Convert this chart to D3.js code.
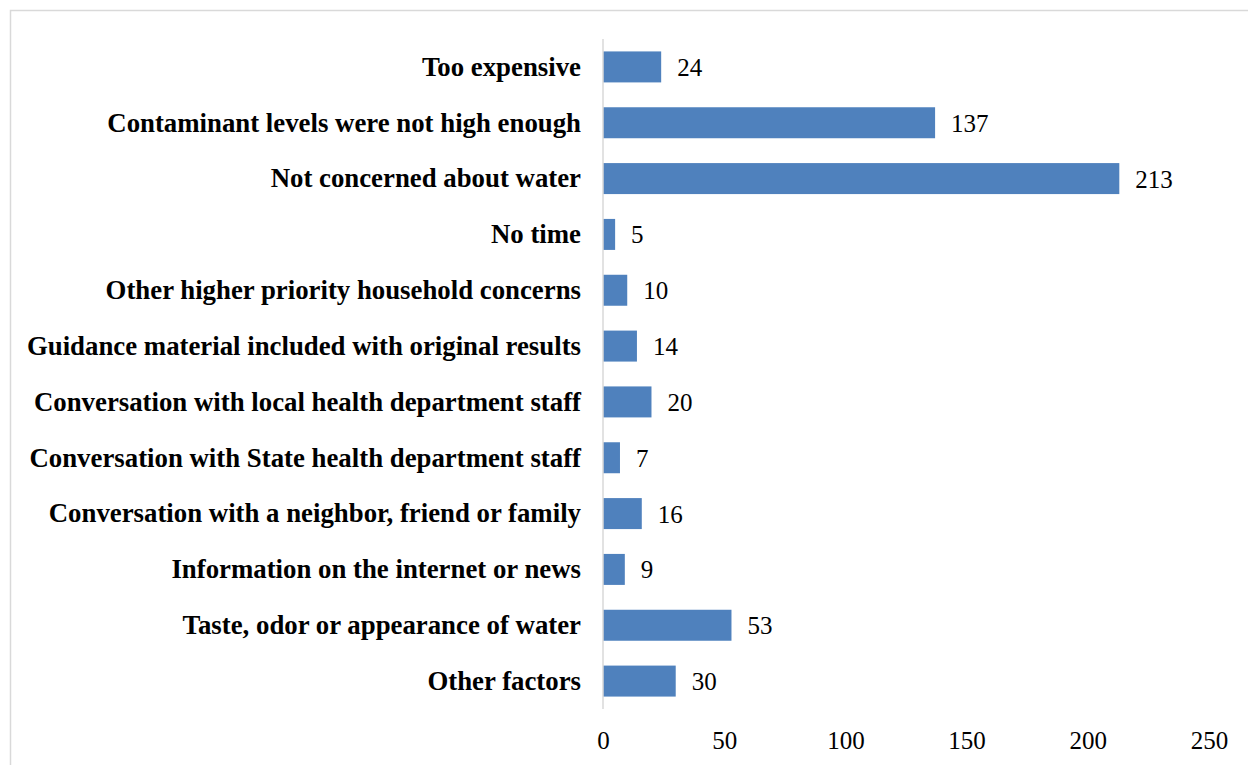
<!DOCTYPE html>
<html>
<head>
<meta charset="utf-8">
<script src="https://cdn.jsdelivr.net/npm/d3@7/dist/d3.min.js"></script>
<style>
  html, body { margin: 0; padding: 0; background: #fff; }
  svg { display: block; }
  text { font-family: "Liberation Serif", "Times New Roman", serif; fill: #000; }
</style>
</head>
<body>
<svg id="chart" width="1248" height="765"></svg>
<script>
// Reasons reported, top to bottom
const categories = [
  "Too expensive",
  "Contaminant levels were not high enough",
  "Not concerned about water",
  "No time",
  "Other higher priority household concerns",
  "Guidance material included with original results",
  "Conversation with local health department staff",
  "Conversation with State health department staff",
  "Conversation with a neighbor, friend or family",
  "Information on the internet or news",
  "Taste, odor or appearance of water",
  "Other factors"
];
const counts = [24, 137, 213, 5, 10, 14, 20, 7, 16, 9, 53, 30];
const tickValues = [0, 50, 100, 150, 200, 250];

const svg = d3.select("#chart");

// Chart area frame
svg.append("rect")
  .attr("x", 10.5).attr("y", 10.5)
  .attr("width", 1300).attr("height", 800)
  .attr("fill", "none")
  .attr("stroke", "#d9d9d9")
  .attr("stroke-width", 1.5);

const x = d3.scaleLinear().domain([0, 250]).range([603, 1209]);
const y = d3.scaleBand().domain(categories).range([39, 709])
  .paddingInner(0.445).paddingOuter(0.2225);

// Bars
svg.append("g").selectAll("rect")
  .data(categories)
  .join("rect")
  .attr("x", x(0))
  .attr("y", d => y(d))
  .attr("width", (d, i) => x(counts[i]) - x(0))
  .attr("height", y.bandwidth())
  .attr("fill", "#4f81bd");

// Vertical category axis line
svg.append("line")
  .attr("x1", x(0)).attr("x2", x(0))
  .attr("y1", 39).attr("y2", 709)
  .attr("stroke", "#d9d9d9")
  .attr("stroke-width", 1.5);

// Category labels
const yAxis = svg.append("g")
  .attr("transform", `translate(${x(0)},0)`)
  .call(d3.axisLeft(y).tickSize(0).tickPadding(22));
yAxis.select(".domain").remove();
yAxis.selectAll("text")
  .style("font-family", '"Liberation Serif", "Times New Roman", serif')
  .style("font-size", "26.8px")
  .style("font-weight", "bold")
  .attr("fill", "#000")
  .attr("dy", "0.33em");

// Value axis labels
const xAxis = svg.append("g")
  .attr("transform", "translate(0,709)")
  .call(d3.axisBottom(x).tickValues(tickValues).tickSize(0).tickPadding(22));
xAxis.select(".domain").remove();
xAxis.selectAll("text")
  .style("font-family", '"Liberation Serif", "Times New Roman", serif')
  .style("font-size", "25px")
  .attr("fill", "#000");

// Value labels at bar ends
svg.append("g").selectAll("text")
  .data(categories)
  .join("text")
  .attr("x", (d, i) => x(counts[i]) + 16)
  .attr("y", d => y(d) + y.bandwidth() / 2)
  .attr("dy", "0.36em")
  .style("font-size", "25px")
  .text((d, i) => counts[i]);
</script>
</body>
</html>
